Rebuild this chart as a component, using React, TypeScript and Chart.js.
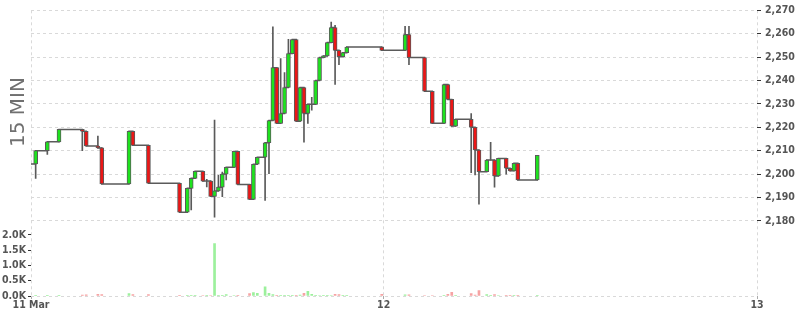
import React, { useEffect, useRef } from 'react';
import { Chart, registerables } from 'chart.js';

Chart.register(...registerables);

// 15-minute slot index counted from 11 Mar 00:00 (96 slots per day)
const slots = [4, 6, 9, 12, 18, 19, 22, 23, 30, 31, 35, 43, 45, 46, 47, 49, 50, 51, 52, 53, 54, 55, 57, 58, 61, 62, 63, 65, 66, 67, 68, 69, 70, 71, 72, 73, 74, 75, 76, 77, 78, 79, 80, 81, 82, 83, 84, 85, 86, 95, 101, 102, 106, 108, 111, 112, 113, 114, 118, 119, 120, 122, 123, 124, 125, 127, 128, 129, 130, 135];

const opens = [2204.3, 2204.3, 2210.0, 2213.8, 2219.1, 2218.3, 2212.0, 2211.2, 2195.8, 2218.3, 2212.3, 2196.1, 2183.7, 2193.9, 2198.2, 2201.2, 2197.0, 2197.0, 2190.5, 2192.8, 2194.4, 2200.0, 2202.9, 2209.7, 2195.6, 2189.2, 2204.2, 2207.2, 2213.4, 2222.9, 2245.5, 2221.7, 2225.9, 2237.0, 2251.5, 2257.5, 2222.6, 2237.0, 2225.9, 2229.8, 2229.8, 2240.0, 2249.8, 2250.5, 2256.2, 2262.6, 2252.9, 2250.2, 2251.9, 2254.3, 2252.9, 2259.6, 2249.8, 2235.4, 2221.7, 2238.3, 2231.9, 2220.5, 2223.4, 2220.0, 2210.3, 2201.0, 2206.0, 2206.0, 2199.2, 2206.7, 2202.5, 2201.4, 2204.6, 2197.5];

const closes = [2204.3, 2210.0, 2213.8, 2219.1, 2218.3, 2212.0, 2211.2, 2195.8, 2218.3, 2212.3, 2196.1, 2183.7, 2193.9, 2198.2, 2201.2, 2197.0, 2197.0, 2190.5, 2192.8, 2194.4, 2200.0, 2202.9, 2209.7, 2195.6, 2189.2, 2204.2, 2207.2, 2213.4, 2222.9, 2245.5, 2221.7, 2225.9, 2237.0, 2251.5, 2257.5, 2222.6, 2237.0, 2225.9, 2229.8, 2229.8, 2240.0, 2249.8, 2250.5, 2256.2, 2262.6, 2252.9, 2250.2, 2251.9, 2254.3, 2252.9, 2259.6, 2249.8, 2235.4, 2221.7, 2238.3, 2231.9, 2220.5, 2223.4, 2220.0, 2210.3, 2201.0, 2206.0, 2206.0, 2199.2, 2206.7, 2202.5, 2201.4, 2204.6, 2197.5, 2208.0];

const highs = [2204.3, 2210.0, 2213.8, 2219.1, 2219.1, 2218.3, 2216.2, 2211.2, 2218.3, 2218.3, 2212.3, 2196.1, 2193.9, 2198.2, 2201.2, 2201.2, 2197.8, 2197.0, 2223.1, 2199.5, 2200.9, 2202.9, 2209.7, 2209.7, 2195.6, 2204.2, 2207.2, 2213.4, 2222.9, 2262.9, 2245.5, 2249.4, 2243.4, 2257.6, 2257.5, 2257.5, 2237.0, 2237.0, 2229.8, 2232.8, 2240.0, 2249.8, 2250.5, 2256.2, 2265.0, 2263.6, 2252.9, 2251.9, 2254.3, 2254.3, 2263.2, 2263.2, 2249.8, 2235.4, 2238.3, 2238.3, 2231.9, 2223.4, 2225.9, 2220.0, 2210.3, 2206.0, 2213.6, 2206.0, 2206.7, 2206.7, 2202.5, 2204.6, 2204.6, 2208.0];

const lows = [2204.3, 2198.2, 2208.4, 2213.8, 2210.0, 2212.0, 2211.2, 2195.8, 2195.8, 2212.3, 2196.1, 2183.7, 2183.7, 2184.7, 2198.2, 2197.0, 2194.5, 2190.5, 2181.6, 2192.8, 2190.4, 2197.5, 2202.9, 2195.6, 2189.2, 2189.2, 2204.2, 2188.7, 2200.2, 2222.9, 2221.7, 2221.7, 2225.9, 2237.0, 2251.5, 2222.6, 2222.6, 2213.6, 2221.7, 2227.3, 2229.8, 2240.0, 2249.8, 2250.5, 2256.2, 2238.3, 2246.8, 2250.2, 2251.9, 2252.9, 2252.9, 2246.8, 2235.4, 2221.7, 2221.7, 2231.9, 2220.5, 2220.5, 2200.6, 2199.6, 2187.1, 2201.0, 2206.0, 2194.4, 2199.2, 2200.0, 2201.4, 2201.4, 2197.5, 2197.5];

const volumes = [0, 5, 5, 5, 30, 35, 55, 50, 80, 45, 45, 10, 10, 10, 10, 15, 10, 15, 1710, 25, 25, 45, 15, 20, 80, 110, 90, 300, 90, 45, 25, 25, 25, 25, 25, 25, 30, 90, 150, 55, 20, 15, 10, 10, 15, 55, 50, 10, 10, 55, 40, 40, 15, 15, 25, 55, 120, 10, 80, 30, 180, 50, 20, 50, 15, 25, 25, 20, 25, 20];

const X_MIN = 5.3;
const X_MAX = 192;
const xTickValues = [X_MIN, 96, 192];
const xTickLabels = ['11 Mar', '12', '13'];

const PRICE_MIN = 2147.9;
const PRICE_MAX = 2270;
const priceTicks = [2180, 2190, 2200, 2210, 2220, 2230, 2240, 2250, 2260, 2270];

const VOLUME_MAX = 9341;
const volumeTicks = [0, 500, 1000, 1500, 2000];

const PANEL_TITLE = '15 MIN';

const UP = '#1ee31e';
const DOWN = '#ec1616';
const UP_VOL = '#9cf09c';
const DOWN_VOL = '#f6a3a3';
const OUTLINE = '#5a5a5a';
const GRID = '#d9d9d9';
const TEXT = '#555555';

const tickFont = { family: '"DejaVu Sans Condensed", "DejaVu Sans", Verdana, sans-serif', size: 10.5, weight: 'bold' as const };

const titlePlugin = {
  id: 'panelTitle',
  afterDraw(chart: any) {
    const { ctx } = chart;
    ctx.save();
    ctx.translate(24, 112);
    ctx.rotate(-Math.PI / 2);
    ctx.font = '20px "DejaVu Sans", Verdana, sans-serif';
    ctx.fillStyle = '#707070';
    ctx.textAlign = 'center';
    ctx.textBaseline = 'alphabetic';
    ctx.fillText(PANEL_TITLE, 0, 0);
    ctx.restore();
  },
};

export default function App() {
  const ref = useRef<HTMLCanvasElement>(null);

  useEffect(() => {
    document.body.style.margin = '0';
    const canvas = ref.current;
    if (!canvas) return;

    const isUp = (i: number) => closes[i] >= opens[i];
    const xs = slots.map((s) => s + 0.5);

    const chart = new Chart(canvas, {
      type: 'bar',
      data: {
        datasets: [
          {
            type: 'bar',
            label: 'body',
            data: xs.map((x, i) => ({ x, y: [opens[i], closes[i]] })) as any,
            backgroundColor: slots.map((_, i) => (isUp(i) ? UP : DOWN)),
            borderColor: OUTLINE,
            borderWidth: 1,
            borderSkipped: false,
            barThickness: 4,
            grouped: false,
            yAxisID: 'y',
            order: 0,
          },
          {
            type: 'bar',
            label: 'wick',
            data: xs.map((x, i) => ({ x, y: [lows[i], highs[i]] })) as any,
            backgroundColor: OUTLINE,
            borderWidth: 0,
            barThickness: 1,
            grouped: false,
            yAxisID: 'y',
            order: 1,
          },
          {
            type: 'line',
            label: 'close',
            data: xs.map((x, i) => ({ x, y: closes[i] })),
            borderColor: OUTLINE,
            borderWidth: 1.5,
            pointRadius: 0,
            stepped: true,
            fill: false,
            yAxisID: 'y',
            order: 2,
          },
          {
            type: 'bar',
            label: 'volume',
            data: xs.map((x, i) => ({ x, y: volumes[i] })),
            backgroundColor: slots.map((_, i) => (isUp(i) ? UP_VOL : DOWN_VOL)),
            borderWidth: 0,
            barThickness: 2,
            grouped: false,
            yAxisID: 'yv',
            order: 3,
          },
        ] as any,
      },
      options: {
        responsive: false,
        animation: false,
        events: [],
        layout: { padding: { top: 10, left: 0, right: 0, bottom: 0 } },
        plugins: {
          legend: { display: false },
          tooltip: { enabled: false },
        },
        scales: {
          x: {
            type: 'linear',
            min: X_MIN,
            max: X_MAX,
            offset: false,
            afterBuildTicks: (s: any) => {
              s.ticks = xTickValues.map((v) => ({ value: v }));
            },
            afterFit: (s: any) => {
              s.height = 19;
            },
            ticks: {
              autoSkip: false,
              maxRotation: 0,
              padding: 0,
              color: TEXT,
              font: tickFont,
              callback: (v: any) => {
                const k = xTickValues.indexOf(Number(v));
                return k >= 0 ? xTickLabels[k] : '';
              },
            },
            grid: { color: GRID, offset: false, tickLength: 3, tickColor: '#aaaaaa' },
            border: { display: false, dash: [3, 3] },
          },
          y: {
            type: 'linear',
            position: 'right',
            min: PRICE_MIN,
            max: PRICE_MAX,
            afterBuildTicks: (s: any) => {
              s.ticks = priceTicks.map((v) => ({ value: v }));
            },
            afterFit: (s: any) => {
              s.width = 43;
            },
            ticks: {
              padding: 4,
              color: TEXT,
              font: tickFont,
              callback: (v: any) => Number(v).toLocaleString('en-US'),
            },
            grid: { color: GRID, tickLength: 4, tickColor: '#333333', tickBorderDash: [] },
            border: { display: false, dash: [3, 3] },
          },
          yv: {
            type: 'linear',
            position: 'left',
            min: 0,
            max: VOLUME_MAX,
            afterBuildTicks: (s: any) => {
              s.ticks = volumeTicks.map((v) => ({ value: v }));
            },
            afterFit: (s: any) => {
              s.width = 31;
            },
            ticks: {
              padding: 2,
              color: TEXT,
              font: tickFont,
              callback: (v: any) => (Number(v) / 1000).toFixed(1) + 'K',
            },
            grid: {
              color: (c: any) => (c.tick && c.tick.value === 0 ? GRID : 'rgba(0,0,0,0)'),
              tickLength: 3,
              tickColor: '#333333',
              tickBorderDash: [],
            },
            border: { display: false, dash: [3, 3] },
          },
        },
      } as any,
      plugins: [titlePlugin],
    });

    return () => chart.destroy();
  }, []);

  return (
    <div style={{ width: 800, height: 315 }}>
      <canvas ref={ref} width={800} height={315} style={{ display: 'block' }} />
    </div>
  );
}
